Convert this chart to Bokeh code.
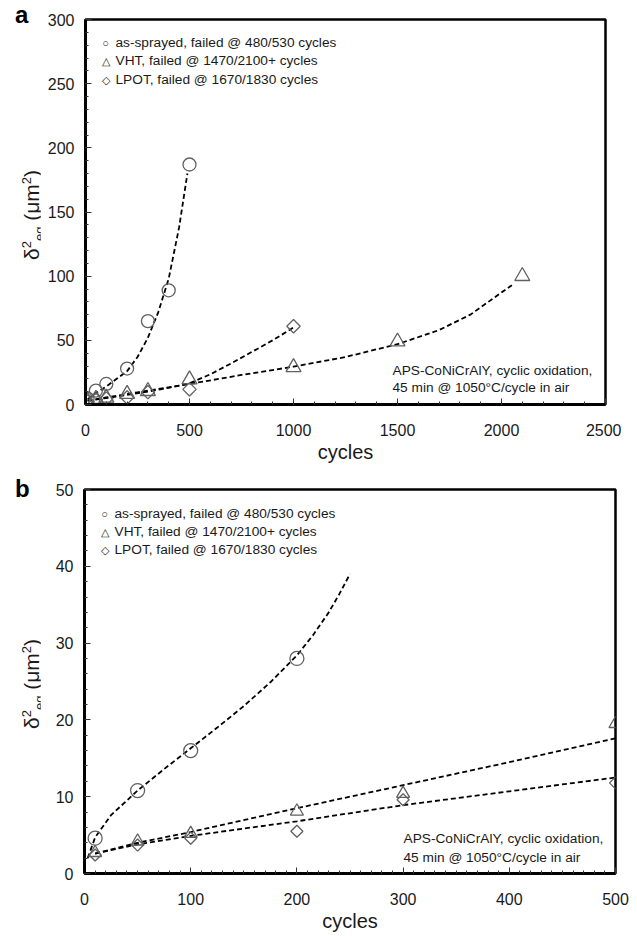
import numpy as np
from bokeh.plotting import figure
from bokeh.models import Label, Range1d, FixedTicker, Div
from bokeh.layouts import column, row
from bokeh.embed import file_html
from bokeh.resources import INLINE

# ---------------- data ----------------
as_x = [10, 50, 100, 200, 300, 400, 500]
as_y = [4.6, 10.8, 16.0, 28.0, 65.0, 89.0, 187.0]
vht_x = [10, 50, 100, 200, 300, 500, 1000, 1500, 2100]
vht_y = [2.7, 4.2, 5.2, 8.1, 10.4, 19.5, 29.0, 49.0, 100.0]
lpot_x = [10, 50, 100, 200, 300, 500, 1000]
lpot_y = [2.4, 3.7, 4.6, 5.5, 9.6, 11.8, 61.0]

# trend curves, panel a
a_fit_as_x = [10, 50, 100, 150, 200, 250, 300, 350, 400, 450, 490]
a_fit_as_y = [4, 9, 14, 20, 26, 37, 52, 72, 98, 138, 180]
a_fit_vht_x = [10, 100, 250, 500, 750, 1000, 1250, 1500, 1700, 1850, 2050]
a_fit_vht_y = [3, 5.5, 9.5, 16, 23, 29.5, 37, 47, 58, 70, 93]
a_fit_lpot_x = [10, 100, 200, 300, 400, 500, 600, 700, 800, 900, 1000]
a_fit_lpot_y = [3, 5, 7.5, 10, 13, 16.5, 23.5, 32, 41, 50, 60]

# trend curves, panel b
b_fit_as_x = [3, 10, 25, 50, 75, 100, 125, 150, 175, 200, 215, 230, 240, 250]
b_fit_as_y = [2, 4.7, 7.6, 10.8, 13.6, 16.3, 19, 21.8, 24.9, 28.4, 31.0, 34.0, 36.4, 39]
b_fit_vht_x = [10, 50, 100, 200, 300, 400, 500]
b_fit_vht_y = [2.6, 4.0, 5.4, 8.5, 11.5, 14.5, 17.6]
b_fit_lpot_x = [10, 50, 100, 200, 300, 400, 500]
b_fit_lpot_y = [2.6, 3.8, 4.9, 6.8, 8.9, 10.7, 12.5]

# ticks
a_xticks = [0, 500, 1000, 1500, 2000, 2500]
a_xminor = list(range(0, 2501, 100))
a_yticks = [0, 50, 100, 150, 200, 250, 300]
a_yminor = list(range(0, 301, 10))
b_xticks = [0, 100, 200, 300, 400, 500]
b_xminor = list(range(0, 501, 10))
b_yticks = [0, 10, 20, 30, 40, 50]
b_yminor = list(range(0, 51, 2))

legend_texts = ["as-sprayed, failed @ 480/530 cycles",
                "VHT, failed @ 1470/2100+ cycles",
                "LPOT, failed @ 1670/1830 cycles"]
legend_syms = ["\u25cb", "\u25b3", "\u25c7"]
note_lines = ["APS-CoNiCrAlY, cyclic oxidation,",
              "45 min @ 1050\u00b0C/cycle in air"]

FONT = "Liberation Sans"
TXT = "#1a1a1a"
MK = "#606060"


def make_panel(xr, yr, xt, xm, yt, ym, fw, fh, mb, fits, msize,
               leg_pos, note_pos):
    p = figure(output_backend="svg", toolbar_location=None,
               frame_width=fw, frame_height=fh,
               x_range=Range1d(*xr), y_range=Range1d(*yr),
               min_border_left=mb[0], min_border_right=mb[1],
               min_border_top=mb[2], min_border_bottom=mb[3])
    p.grid.visible = False
    p.outline_line_color = "black"
    p.outline_line_width = 2.5
    p.background_fill_color = "white"
    p.border_fill_color = "white"

    p.xaxis.ticker = FixedTicker(ticks=xt, minor_ticks=xm)
    p.yaxis.ticker = FixedTicker(ticks=yt, minor_ticks=ym)
    for ax in (p.xaxis, p.yaxis):
        ax.axis_line_width = 3
        ax.axis_line_color = "black"
        ax.major_tick_in = 6
        ax.major_tick_out = 0
        ax.minor_tick_in = 3
        ax.minor_tick_out = 0
        ax.major_tick_line_color = "#333333"
        ax.minor_tick_line_color = "#333333"
        ax.major_label_text_font = FONT
        ax.major_label_text_font_size = "16px"
        ax.major_label_text_color = TXT
    p.xaxis.major_label_standoff = 19
    p.yaxis.major_label_standoff = 11
    p.xaxis.axis_label = "cycles"
    p.xaxis.axis_label_text_font = FONT
    p.xaxis.axis_label_text_font_size = "20px"
    p.xaxis.axis_label_text_font_style = "normal"
    p.xaxis.axis_label_text_color = TXT
    p.xaxis.axis_label_standoff = 2

    for fx, fy in fits:
        p.line(fx, fy, line_color="black", line_width=1.8, line_dash="5 3")

    p.scatter(as_x, as_y, marker="circle", size=msize[0], fill_color=None,
              line_color=MK, line_width=1.3)
    p.scatter(vht_x, vht_y, marker="triangle", size=msize[1], fill_color=None,
              line_color=MK, line_width=1.3)
    p.scatter(lpot_x, lpot_y, marker="square", angle=np.pi / 4, size=msize[2],
              fill_color=None, line_color=MK, line_width=1.3)

    sx, tx, ys = leg_pos
    for sym, t, yy in zip(legend_syms, legend_texts, ys):
        p.add_layout(Label(x=sx, y=fh - yy, x_units="screen", y_units="screen",
                           text=sym, text_font=FONT, text_font_size="11px",
                           text_color=TXT, text_align="center",
                           text_baseline="middle"))
        p.add_layout(Label(x=tx, y=fh - yy, x_units="screen", y_units="screen",
                           text=t, text_font=FONT, text_font_size="13.7px",
                           text_color=TXT, text_align="left",
                           text_baseline="middle"))
    nx, nys = note_pos
    for t, yy in zip(note_lines, nys):
        p.add_layout(Label(x=nx, y=yy, x_units="screen", y_units="screen",
                           text=t, text_font=FONT, text_font_size="13.7px",
                           text_color=TXT, text_align="left",
                           text_baseline="middle"))
    return p


def side_div(letter, letter_top, label_bottom, height):
    html = (
        f'<div style="position:relative;width:40px;height:{height}px;'
        f'font-family:\'Liberation Sans\';color:{TXT};">'
        f'<div style="position:absolute;left:15px;top:{letter_top}px;'
        f'font-size:24px;line-height:24px;font-weight:bold;color:#000;">{letter}</div>'
        f'<div style="position:absolute;left:14px;top:{label_bottom}px;'
        f'font-size:21px;line-height:26px;white-space:nowrap;'
        f'transform-origin:0 0;transform:rotate(-90deg);">'
        '\u03b4<sup style="font-size:13px;">2</sup>'
        '<sub style="font-size:13px;">eq</sub> (\u03bcm'
        '<sup style="font-size:13px;">2</sup>)</div>'
        '</div>'
    )
    return Div(text=html, width=40, height=height, margin=(0, 0, 0, 0))


pa = make_panel((0, 2500), (0, 300), a_xticks, a_xminor, a_yticks, a_yminor,
                520, 385, (45, 16, 19, 64),
                [(a_fit_as_x, a_fit_as_y), (a_fit_vht_x, a_fit_vht_y),
                 (a_fit_lpot_x, a_fit_lpot_y)],
                (13, 15, 9.5),
                (20, 30, (23, 41, 60)), (307, (34, 17)))

pb = make_panel((0, 500), (0, 50), b_xticks, b_xminor, b_yticks, b_yminor,
                531, 384, (44, 14, 21, 55),
                [(b_fit_as_x, b_fit_as_y), (b_fit_vht_x, b_fit_vht_y),
                 (b_fit_lpot_x, b_fit_lpot_y)],
                (14, 13, 8.5),
                (20, 30, (24, 42, 60)), (319, (35, 16)))

da = side_div("a", 3, 260, 468)
db = side_div("b", 9, 261, 460)

layout = column(row(da, pa, spacing=0), row(db, pb, spacing=0), spacing=0)
open("out.html", "w").write(file_html(layout, INLINE))
